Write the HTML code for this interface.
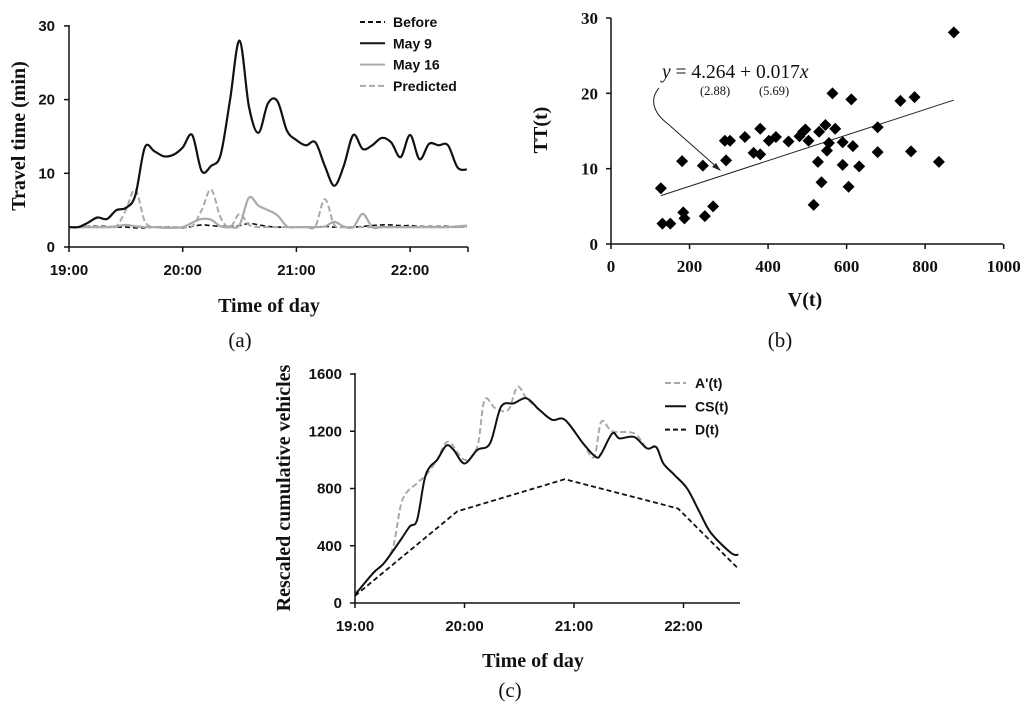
<!DOCTYPE html>
<html><head><meta charset="utf-8"><style>
html,body{margin:0;padding:0;background:#fff;}
svg{display:block;}
.tk{font-family:"Liberation Sans",sans-serif;font-weight:bold;font-size:15px;fill:#111;}
.tks{font-family:"Liberation Serif",serif;font-weight:bold;font-size:17px;fill:#111;}
.ttl{font-family:"Liberation Serif",serif;font-weight:bold;font-size:20px;fill:#111;}
.lg{font-family:"Liberation Sans",sans-serif;font-weight:bold;font-size:14px;fill:#111;}
.pl{font-family:"Liberation Serif",serif;font-size:21px;fill:#111;}
</style></head><body>
<svg id="s" width="1024" height="712" viewBox="0 0 1024 712" xmlns="http://www.w3.org/2000/svg"></svg>
<script>
// ---- Panel (a) data: 5-minute steps from 19:00 ----
const aTicks = ["19:00","20:00","21:00","22:00"];
const aYTicks = [0,10,20,30];
const may9 = [2.7,2.7,3.3,4.0,3.8,5.0,5.3,7.0,13.5,13.0,12.3,12.5,13.5,15.2,10.3,11.0,12.5,20,28,19,15.5,19.5,19.8,15.8,14.5,13.8,14.2,11.0,8.3,11.0,15.2,13.3,13.8,14.8,14.2,12.2,15.2,11.9,14.0,13.8,13.8,10.8,10.5];
const before = [2.7,2.7,2.8,2.8,2.8,2.7,2.7,2.6,2.6,2.7,2.7,2.7,2.6,2.8,3.0,2.9,2.8,2.8,2.9,3.2,3.0,2.8,2.7,2.7,2.7,2.7,2.7,2.8,2.7,2.7,2.7,2.8,2.9,3.0,3.0,2.9,2.9,2.8,2.8,2.8,2.8,2.7,2.8];
const may16 = [2.7,2.7,2.7,2.7,2.7,2.8,3.0,2.8,2.7,2.7,2.6,2.6,2.7,3.3,3.8,3.7,2.8,2.7,3.0,6.7,5.6,5.0,4.3,2.8,2.7,2.7,2.7,2.8,3.4,2.8,2.7,4.5,2.7,2.7,2.7,2.7,2.7,2.7,2.7,2.7,2.7,2.8,2.9];
const predicted = [2.7,2.7,2.7,2.7,2.7,2.8,5.0,7.8,3.5,2.7,2.7,2.7,2.7,2.8,5.0,7.8,4.0,2.7,4.5,3.0,2.7,2.7,2.7,2.7,2.7,2.7,2.8,6.5,3.0,2.7,2.7,2.7,2.7,2.7,2.7,2.7,2.7,2.7,2.7,2.7,2.7,2.7,2.7];
// ---- Panel (b) data ----
const bX = [127,131,151,181,184,187,234,239,260,290,293,303,341,363,380,380,402,420,452,480,489,495,503,516,527,530,536,546,550,555,564,571,590,590,605,612,616,632,679,679,737,764,773,835,873];
const bY = [7.4,2.7,2.7,11,4.2,3.4,10.4,3.7,5.0,13.7,11.1,13.7,14.2,12.1,15.3,11.9,13.7,14.2,13.6,14.3,14.9,15.2,13.7,5.2,10.9,14.9,8.2,15.8,12.4,13.4,20,15.3,13.5,10.5,7.6,19.2,13,10.3,15.5,12.2,19,12.3,19.5,10.9,28.1];
const bXTicks = [0,200,400,600,800,1000];
const bYTicks = [0,10,20,30];
const regA = 4.264, regB = 0.017;
// ---- Panel (c) data (minutes after 19:00) ----
const cYTicks = [0,400,800,1200,1600];
const csT = [0,10,16,25,30,34,38,41,45,50,54,60,67,74,80,87,94,101,108,115,125,132,135,141,145,153,160,165,169,175,182,189,195,206,210];
const csV = [58,210,280,440,535,580,860,950,1000,1100,1070,975,1070,1115,1370,1395,1430,1350,1280,1280,1115,1020,1045,1185,1150,1160,1080,1090,975,895,800,630,490,350,337];
const apT = [0,10,16,21,26,34,39,45,51,60,67,71,77,84,89,94,101,108,115,125,131,135,141,153,160,165,169,175,182,189,195,206,210];
const apV = [58,210,280,395,720,837,895,1000,1128,1000,1093,1418,1360,1350,1510,1430,1350,1280,1280,1115,1020,1267,1200,1185,1080,1090,975,895,800,630,490,350,337];
const dT = [0,56,115,177,210];
const dV = [50,640,865,660,240];

const NS="http://www.w3.org/2000/svg";
const svg=document.getElementById('s');
function mk(tag,attrs,parent){const e=document.createElementNS(NS,tag);for(const k in attrs)e.setAttribute(k,attrs[k]);(parent||svg).appendChild(e);return e;}
function txt(s,attrs,parent){const e=mk('text',attrs,parent);e.textContent=s;return e;}
function smooth(pts){let d="M"+pts[0][0].toFixed(1)+","+pts[0][1].toFixed(1);
 for(let i=0;i<pts.length-1;i++){const p0=pts[Math.max(0,i-1)],p1=pts[i],p2=pts[i+1],p3=pts[Math.min(pts.length-1,i+2)];
  const c1=[p1[0]+(p2[0]-p0[0])/6,p1[1]+(p2[1]-p0[1])/6],c2=[p2[0]-(p3[0]-p1[0])/6,p2[1]-(p3[1]-p1[1])/6];
  d+=" C"+c1.join(",")+" "+c2.join(",")+" "+p2[0].toFixed(1)+","+p2[1].toFixed(1);}return d;}

// ===== Panel (a) =====
const ax=m=>69+m*(113.7/60), ay=v=>247-v*7.37;
const ga=mk('g',{});


let e=mk('line',{x1:69,y1:25,x2:69,y2:247,stroke:'#111','stroke-width':1.5},ga);

e=mk('line',{x1:69,y1:247,x2:468,y2:247,stroke:'#111','stroke-width':1.5},ga);

aYTicks.forEach(v=>{mk('line',{x1:64,x2:69,y1:ay(v),y2:ay(v),stroke:'#111','stroke-width':1.5},ga);
 e=txt(v,{x:55,y:ay(v)+5,'text-anchor':'end',class:'tk'},ga);
 });
aTicks.forEach((s,i)=>{mk('line',{x1:ax(i*60),x2:ax(i*60),y1:247,y2:252,stroke:'#111','stroke-width':1.5},ga);
 e=txt(s,{x:ax(i*60),y:275,'text-anchor':'middle',class:'tk'},ga);
 });
mk('line',{x1:468,x2:468,y1:247,y2:252,stroke:'#111','stroke-width':1.5},ga);
function aLine(arr,style,name){const p=mk('path',Object.assign({d:smooth(arr.map((v,i)=>[ax(i*5),ay(v)])),fill:'none'},style),ga);
 }
aLine(before,{stroke:'#111','stroke-width':1.6,'stroke-dasharray':'5,3'},'before-line');
aLine(may16,{stroke:'#aaa','stroke-width':2.2},'may16-line');
aLine(predicted,{stroke:'#aaa','stroke-width':2,'stroke-dasharray':'6,3'},'predicted-line');
aLine(may9,{stroke:'#111','stroke-width':2.2},'may9-line');
e=txt('Travel time (min)',{x:0,y:0,class:'ttl',transform:'translate(25,136) rotate(-90)','text-anchor':'middle'},ga);

e=txt('Time of day',{x:269,y:312,class:'ttl','text-anchor':'middle'},ga);

const aLeg=[['Before','#111','5,3'],['May 9','#111',''],['May 16','#aaa',''],['Predicted','#aaa','6,3']];
aLeg.forEach((l,i)=>{const y=22+i*21.3;const g=mk('g',{},ga);
 
 mk('line',{x1:360,x2:385,y1:y,y2:y,stroke:l[1],'stroke-width':2,'stroke-dasharray':l[2]},g);
 txt(l[0],{x:393,y:y+5,class:'lg'},g);});
e=txt('(a)',{x:240,y:347,class:'pl','text-anchor':'middle'},ga);


// ===== Panel (b) =====
const bx=v=>611+v*0.3927, by=v=>244-v*7.533;
const gb=mk('g',{});


e=mk('line',{x1:611,y1:18,x2:611,y2:244,stroke:'#111','stroke-width':1.5},gb);

e=mk('line',{x1:611,y1:244,x2:1003,y2:244,stroke:'#111','stroke-width':1.5},gb);

bYTicks.forEach(v=>{mk('line',{x1:606,x2:611,y1:by(v),y2:by(v),stroke:'#111','stroke-width':1.5},gb);
 e=txt(v,{x:598,y:by(v)+6,'text-anchor':'end',class:'tks'},gb);
 });
bXTicks.forEach(v=>{mk('line',{x1:bx(v),x2:bx(v),y1:244,y2:249,stroke:'#111','stroke-width':1.5},gb);
 e=txt(v,{x:bx(v),y:272,'text-anchor':'middle',class:'tks'},gb);
 });
const rx0=Math.min(...bX), rx1=Math.max(...bX);
e=mk('line',{x1:bx(rx0),y1:by(regA+regB*rx0),x2:bx(rx1),y2:by(regA+regB*rx1),stroke:'#222','stroke-width':1},gb);

bX.forEach((v,i)=>{const cx=bx(v),cy=by(bY[i]);
 const p=mk('path',{d:`M${cx},${cy-6}L${cx+6},${cy}L${cx},${cy+6}L${cx-6},${cy}Z`,fill:'#000'},gb);
 });
e=txt('',{x:662,y:78,'font-family':'"Liberation Serif",serif','font-size':19.5,fill:'#111'},gb);
e.innerHTML='<tspan font-style="italic">y</tspan> = 4.264 + 0.017<tspan font-style="italic">x</tspan>';

e=txt('(2.88)',{x:700,y:95,'font-family':'"Liberation Serif",serif','font-size':12.5,fill:'#111'},gb);

e=txt('(5.69)',{x:759,y:95,'font-family':'"Liberation Serif",serif','font-size':12.5,fill:'#111'},gb);

e=mk('path',{d:'M659,88 C650,98 652,112 668,124 L720,170',fill:'none',stroke:'#222','stroke-width':1},gb);

mk('path',{d:'M721,171 L712,167 L716,163 Z',fill:'#222'},gb);
e=txt('TT(t)',{x:0,y:0,class:'ttl',transform:'translate(547,130) rotate(-90)','text-anchor':'middle'},gb);

e=txt('V(t)',{x:805,y:306,class:'ttl','text-anchor':'middle'},gb);

e=txt('(b)',{x:780,y:347,class:'pl','text-anchor':'middle'},gb);


// ===== Panel (c) =====
const cx_=m=>355+m*(109.5/60), cy_=v=>603-v*(229/1600);
const gc=mk('g',{});


e=mk('line',{x1:355,y1:373,x2:355,y2:603,stroke:'#111','stroke-width':1.5},gc);

e=mk('line',{x1:355,y1:603,x2:740,y2:603,stroke:'#111','stroke-width':1.5},gc);

cYTicks.forEach(v=>{mk('line',{x1:350,x2:355,y1:cy_(v),y2:cy_(v),stroke:'#111','stroke-width':1.5},gc);
 e=txt(v,{x:342,y:cy_(v)+5,'text-anchor':'end',class:'tk'},gc);
 });
aTicks.forEach((s,i)=>{mk('line',{x1:cx_(i*60),x2:cx_(i*60),y1:603,y2:608,stroke:'#111','stroke-width':1.5},gc);
 e=txt(s,{x:cx_(i*60),y:631,'text-anchor':'middle',class:'tk'},gc);
 });
function cLine(T,V,style,name,sm){const pts=T.map((t,i)=>[cx_(t),cy_(V[i])]);
 const d=sm?smooth(pts):'M'+pts.map(p=>p.join(',')).join('L');
 const p=mk('path',Object.assign({d:d,fill:'none'},style),gc);
 }
cLine(apT,apV,{stroke:'#aaa','stroke-width':2,'stroke-dasharray':'6,3'},'a-prime-line',true);
cLine(csT,csV,{stroke:'#111','stroke-width':2},'cs-line',true);
cLine(dT,dV,{stroke:'#111','stroke-width':1.8,'stroke-dasharray':'5,3'},'d-line',false);
const cLeg=[["A'(t)",'#aaa','6,3'],['CS(t)','#111',''],['D(t)','#111','5,3']];
cLeg.forEach((l,i)=>{const y=383+i*23.3;const g=mk('g',{},gc);
 
 mk('line',{x1:665,x2:686,y1:y,y2:y,stroke:l[1],'stroke-width':2,'stroke-dasharray':l[2]},g);
 txt(l[0],{x:695,y:y+5,class:'lg'},g);});
e=txt('Rescaled cumulative vehicles',{x:0,y:0,class:'ttl',transform:'translate(290,488) rotate(-90)','text-anchor':'middle'},gc);

e=txt('Time of day',{x:533,y:667,class:'ttl','text-anchor':'middle'},gc);

e=txt('(c)',{x:510,y:697,class:'pl','text-anchor':'middle'},gc);

</script>
</body></html>
